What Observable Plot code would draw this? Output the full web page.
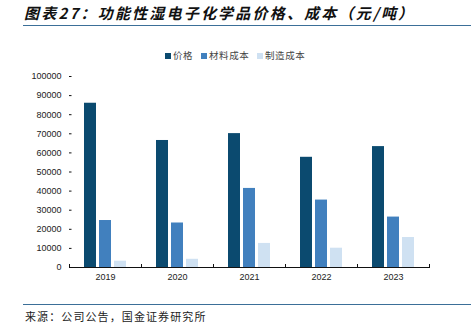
<!DOCTYPE html>
<html>
<head>
<meta charset="utf-8">
<script src="https://cdn.jsdelivr.net/npm/d3@7"></script>
<script src="https://cdn.jsdelivr.net/npm/@observablehq/plot@0.6"></script>
<style>
  html, body { margin: 0; padding: 0; background: #fff; }
  #page { position: relative; width: 471px; height: 333px; overflow: hidden; font-family: "Noto Sans CJK SC", sans-serif; }
  #title { position: absolute; left: 24px; top: 3px; font-size: 15px; font-weight: bold; font-style: italic; letter-spacing: 2.2px; color: #111; white-space: nowrap; line-height: 20px; }
  #tline { position: absolute; left: 23px; right: 0; top: 25px; height: 0; border-top: 1.6px solid #3b6f98; }
  #legend { position: absolute; left: 0; width: 471px; top: 48px; height: 14px; font-size: 9.5px; color: #444; }
  .li { position: absolute; top: 0; line-height: 14px; white-space: nowrap; letter-spacing: 0.6px; }
  .sw { display: inline-block; width: 6px; height: 6px; margin-right: 2px; vertical-align: 0px; }
  #chart { position: absolute; left: 0; top: 66px; }
  #bline { position: absolute; left: 23px; right: 0; top: 304px; height: 0; border-top: 1.6px solid #3b6f98; }
  #source { position: absolute; left: 25px; top: 308px; font-size: 11px; letter-spacing: 1.1px; color: #222; white-space: nowrap; line-height: 16px; }
</style>
</head>
<body>
<div id="page">
  <div id="title">图表27：功能性湿电子化学品价格、成本（元/吨）</div>
  <div id="tline"></div>
  <div id="legend"></div>
  <div id="chart"></div>
  <div id="bline"></div>
  <div id="source">来源：公司公告，国金证券研究所</div>
</div>
<script>
const years = ["2019", "2020", "2021", "2022", "2023"];
const seriesNames = ["价格", "材料成本", "制造成本"];
const price = [86000, 66500, 70100, 57700, 63300];
const materialCost = [24600, 23300, 41400, 35300, 26400];
const manufacturingCost = [3300, 4300, 12600, 10100, 15700];
const yTicks = [0, 10000, 20000, 30000, 40000, 50000, 60000, 70000, 80000, 90000, 100000];
const colors = ["#0b4a6f", "#4180be", "#cfe1f2"];

const seriesValues = [price, materialCost, manufacturingCost];
const data = [];
years.forEach((y, i) => {
  seriesNames.forEach((s, j) => data.push({year: y, series: s, value: seriesValues[j][i]}));
});

// legend
const legendPos = [165, 201, 257];
const legend = document.getElementById("legend");
seriesNames.forEach((s, j) => {
  const el = document.createElement("div");
  el.className = "li";
  el.style.left = legendPos[j] + "px";
  el.innerHTML = `<span class="sw" style="background:${colors[j]}"></span>${s}`;
  legend.appendChild(el);
});

const W = 471, H = 225, mTop = 10, mBottom = 24;
const innerH = H - mTop - mBottom;

const chart = Plot.plot({
  width: W,
  height: H,
  marginLeft: 68,
  marginRight: 41,
  marginTop: mTop,
  marginBottom: mBottom,
  style: {fontFamily: "'Liberation Sans', Arial, sans-serif", fontSize: "9px", color: "#222", background: "#fff"},
  fx: {domain: years, padding: 0, label: null, axis: null},
  x: {domain: seriesNames, paddingInner: 0.17, paddingOuter: 0.845, axis: null},
  y: {domain: [0, 100000], label: null},
  color: {domain: seriesNames, range: colors},
  marks: [
    Plot.barY(data, {fx: "year", x: "series", y: "value", fill: "series"}),
    Plot.ruleY([0], {stroke: "#111", strokeWidth: 1}),
    Plot.frame({anchor: "left", insetTop: innerH - 3, stroke: "#111"}),
    Plot.frame({anchor: "right", insetTop: innerH - 3, stroke: "#111"}),
    Plot.axisY({ticks: yTicks, tickSize: -2.5, tickPadding: 10.5, tickFormat: d => String(d), line: true, stroke: "#111", label: null, fill: "#222"}),
    Plot.axisFx({anchor: "bottom", tickSize: 0, tickPadding: 6, label: null, fill: "#222"})
  ]
});
document.getElementById("chart").appendChild(chart);
</script>
</body>
</html>
